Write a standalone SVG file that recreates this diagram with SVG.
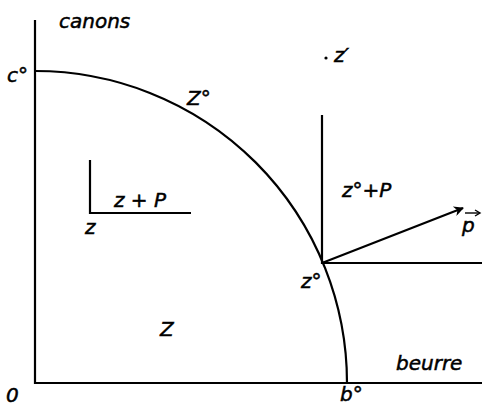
<svg xmlns="http://www.w3.org/2000/svg" width="482" height="406" viewBox="0 0 482 406">
<style>
.ln{stroke:#000;stroke-width:2.2;fill:none}
.t{font-family:"DejaVu Sans","Liberation Sans",sans-serif;font-style:italic;font-size:20px;fill:#000;stroke:#000;stroke-width:0.5}
</style>
<defs>
<marker id="ah" viewBox="0 0 10 10" refX="9" refY="5" markerWidth="15" markerHeight="10" orient="auto" markerUnits="userSpaceOnUse">
<path d="M0,0 L10,5 L0,10 L3,5 Z" fill="#000"/>
</marker>
</defs>
<rect width="482" height="406" fill="#fff"/>
<g id="axes">
<path class="ln" d="M35,20 V383 H482"/>
</g>
<g id="frontier">
<path class="ln" d="M35,71 A312,312 0 0 1 347,383"/>
</g>
<g id="connectors">
<path class="ln" d="M90,160 V213 H191"/>
<path class="ln" d="M322,115 V263 H482"/>
<line class="ln" x1="322" y1="263" x2="463" y2="208" marker-end="url(#ah)"/>
</g>
<g id="labels">
<text class="t" x="59" y="28">canons</text>
<text class="t" x="7" y="82">c°</text>
<text class="t" x="187" y="105">Z°</text>
<circle cx="326" cy="58" r="1.6" fill="#000"/>
<text class="t" x="334" y="62" font-size="17">z′</text>
<text class="t" x="114" y="207">z + P</text>
<text class="t" x="85" y="234">z</text>
<text class="t" x="342" y="197">z°+P</text>
<text class="t" x="462" y="232">p</text>
<path d="M465,213 H479" stroke="#000" stroke-width="1.4"/>
<path d="M475,210 L480,213 L475,216" stroke="#000" stroke-width="1.4" fill="none"/>
<text class="t" x="301" y="288">z°</text>
<text class="t" x="160" y="336" font-size="27">Z</text>
<text class="t" x="396" y="370">beurre</text>
<text class="t" x="6" y="402">0</text>
<text class="t" x="340" y="401" font-size="19">b°</text>
</g>
</svg>
